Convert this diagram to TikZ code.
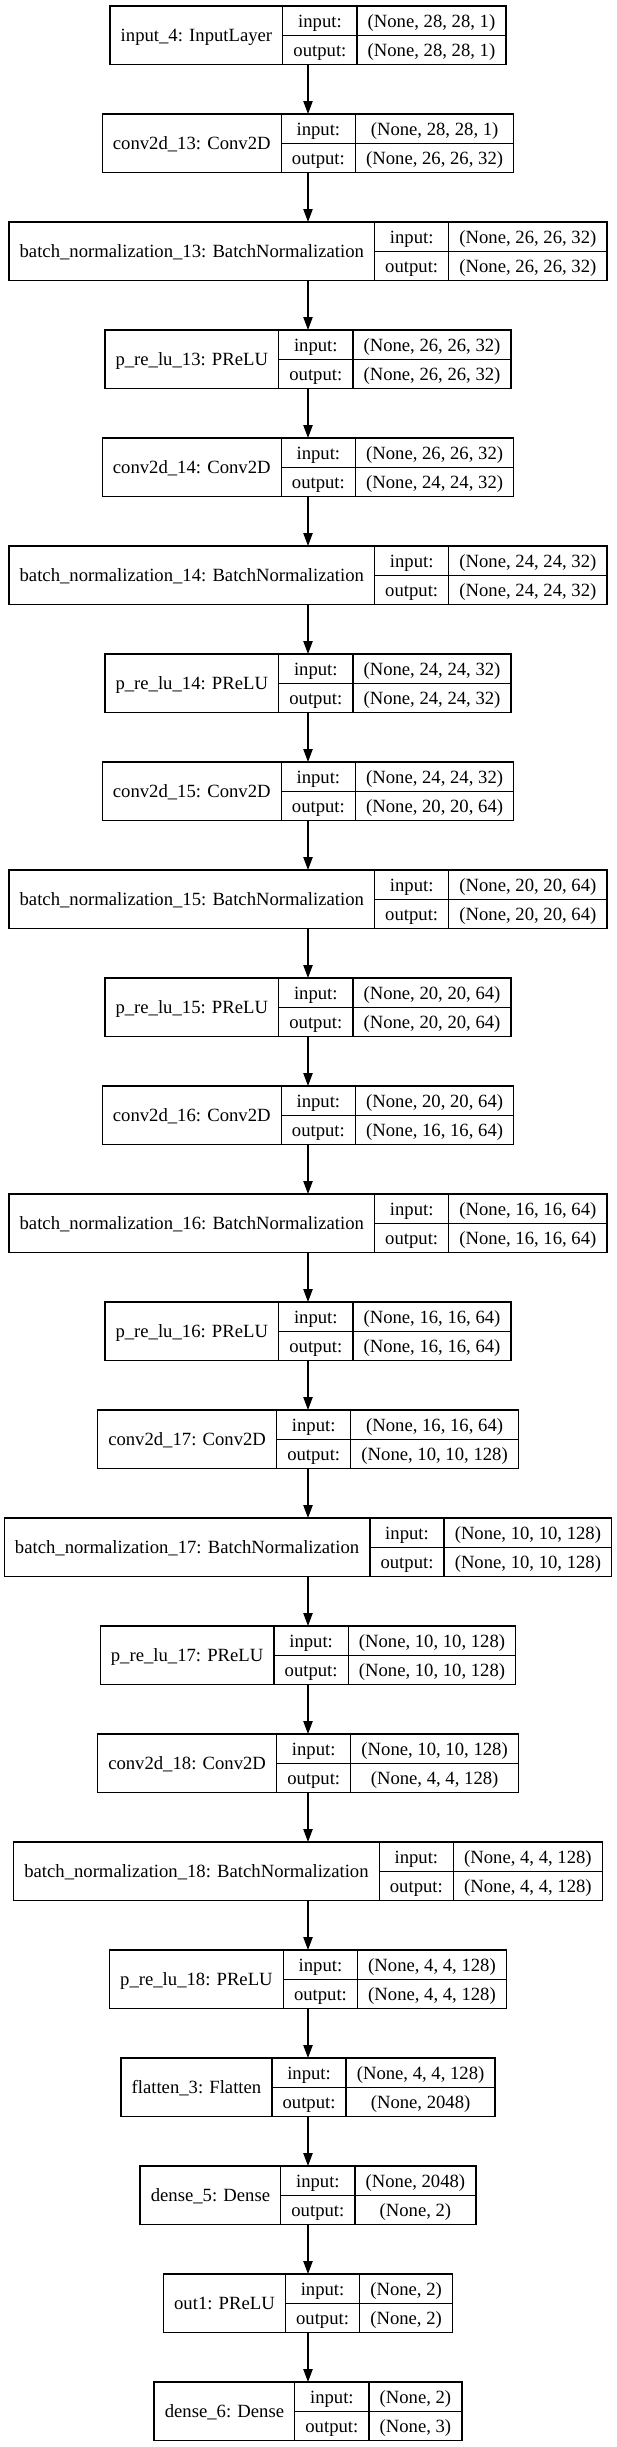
\documentclass[tikz,border=0pt]{standalone}
\usepackage{fontspec}
\setmainfont{Liberation Serif}
\usetikzlibrary{arrows.meta}
\newcommand\lyfont{\fontsize{18.67pt}{22pt}\selectfont}
\newdimen\lyLa
\newdimen\lyLb
\newdimen\lyLc
\newdimen\lyLt
\newdimen\lyLw
\tikzset{
  cell/.style={draw, line width=1.33pt, inner sep=0pt, outer sep=0pt,
    minimum height=29.25pt, text height=16pt, text depth=3pt, font=\lyfont},
  boxframe/.style={inner sep=0pt, outer sep=0pt, minimum height=58.5pt},
  edge/.style={line width=1.33pt, -{Triangle[length=13pt,width=9.3pt]}}
}
\newcommand\lymeasure[3]{%
  \setbox0\hbox{\lyfont #1}\global\lyLa=\wd0
  \setbox0\hbox{\lyfont output:}\global\lyLb=\wd0
  \setbox0\hbox{\lyfont #2}\global\lyLc=\wd0
  \setbox0\hbox{\lyfont #3}\global\lyLt=\wd0
}
\newcommand\layerbox[5]{%
  \pgfinterruptpicture\lymeasure{#3}{#4}{#5}\endpgfinterruptpicture
  \ifdim\lyLt>\lyLc \lyLc=\lyLt\fi
  \advance\lyLa by 21.33pt
  \advance\lyLb by 21.33pt
  \advance\lyLc by 21.33pt
  \lyLw=\lyLa \advance\lyLw by \lyLb \advance\lyLw by \lyLc
  \pgfmathsetmacro\lyY{-(6+108*#2+29.25)}%
  \node[boxframe, minimum width=\lyLw] (#1) at (308pt,\lyY pt) {};
  \node[cell, minimum width=\lyLa, minimum height=58.5pt, anchor=west] (#1-name) at (#1.west) {#3};
  \node[cell, minimum width=\lyLb, anchor=north west] (#1-inl) at (#1-name.north east) {input:};
  \node[cell, minimum width=\lyLb, anchor=south west] (#1-outl) at (#1-name.south east) {output:};
  \node[cell, minimum width=\lyLc, anchor=north west] (#1-inv) at (#1-inl.north east) {#4};
  \node[cell, minimum width=\lyLc, anchor=south west] (#1-outv) at (#1-outl.south east) {#5};
}
\begin{document}
\begin{tikzpicture}[x=1pt,y=1pt]
\fill[white] (0,0) rectangle (616,-2447);
\useasboundingbox (0,0) rectangle (616,-2447);
\layerbox{l0}{0}{input\_4: InputLayer}{(None, 28, 28, 1)}{(None, 28, 28, 1)}
\layerbox{l1}{1}{conv2d\_13: Conv2D}{(None, 28, 28, 1)}{(None, 26, 26, 32)}
\layerbox{l2}{2}{batch\_normalization\_13: BatchNormalization}{(None, 26, 26, 32)}{(None, 26, 26, 32)}
\layerbox{l3}{3}{p\_re\_lu\_13: PReLU}{(None, 26, 26, 32)}{(None, 26, 26, 32)}
\layerbox{l4}{4}{conv2d\_14: Conv2D}{(None, 26, 26, 32)}{(None, 24, 24, 32)}
\layerbox{l5}{5}{batch\_normalization\_14: BatchNormalization}{(None, 24, 24, 32)}{(None, 24, 24, 32)}
\layerbox{l6}{6}{p\_re\_lu\_14: PReLU}{(None, 24, 24, 32)}{(None, 24, 24, 32)}
\layerbox{l7}{7}{conv2d\_15: Conv2D}{(None, 24, 24, 32)}{(None, 20, 20, 64)}
\layerbox{l8}{8}{batch\_normalization\_15: BatchNormalization}{(None, 20, 20, 64)}{(None, 20, 20, 64)}
\layerbox{l9}{9}{p\_re\_lu\_15: PReLU}{(None, 20, 20, 64)}{(None, 20, 20, 64)}
\layerbox{l10}{10}{conv2d\_16: Conv2D}{(None, 20, 20, 64)}{(None, 16, 16, 64)}
\layerbox{l11}{11}{batch\_normalization\_16: BatchNormalization}{(None, 16, 16, 64)}{(None, 16, 16, 64)}
\layerbox{l12}{12}{p\_re\_lu\_16: PReLU}{(None, 16, 16, 64)}{(None, 16, 16, 64)}
\layerbox{l13}{13}{conv2d\_17: Conv2D}{(None, 16, 16, 64)}{(None, 10, 10, 128)}
\layerbox{l14}{14}{batch\_normalization\_17: BatchNormalization}{(None, 10, 10, 128)}{(None, 10, 10, 128)}
\layerbox{l15}{15}{p\_re\_lu\_17: PReLU}{(None, 10, 10, 128)}{(None, 10, 10, 128)}
\layerbox{l16}{16}{conv2d\_18: Conv2D}{(None, 10, 10, 128)}{(None, 4, 4, 128)}
\layerbox{l17}{17}{batch\_normalization\_18: BatchNormalization}{(None, 4, 4, 128)}{(None, 4, 4, 128)}
\layerbox{l18}{18}{p\_re\_lu\_18: PReLU}{(None, 4, 4, 128)}{(None, 4, 4, 128)}
\layerbox{l19}{19}{flatten\_3: Flatten}{(None, 4, 4, 128)}{(None, 2048)}
\layerbox{l20}{20}{dense\_5: Dense}{(None, 2048)}{(None, 2)}
\layerbox{l21}{21}{out1: PReLU}{(None, 2)}{(None, 2)}
\layerbox{l22}{22}{dense\_6: Dense}{(None, 2)}{(None, 3)}
\foreach \a/\b in {0/1,1/2,2/3,3/4,4/5,5/6,6/7,7/8,8/9,9/10,10/11,11/12,12/13,13/14,14/15,15/16,16/17,17/18,18/19,19/20,20/21,21/22}
  \draw[edge] (l\a.south) -- (l\b.north);
\end{tikzpicture}
\end{document}
